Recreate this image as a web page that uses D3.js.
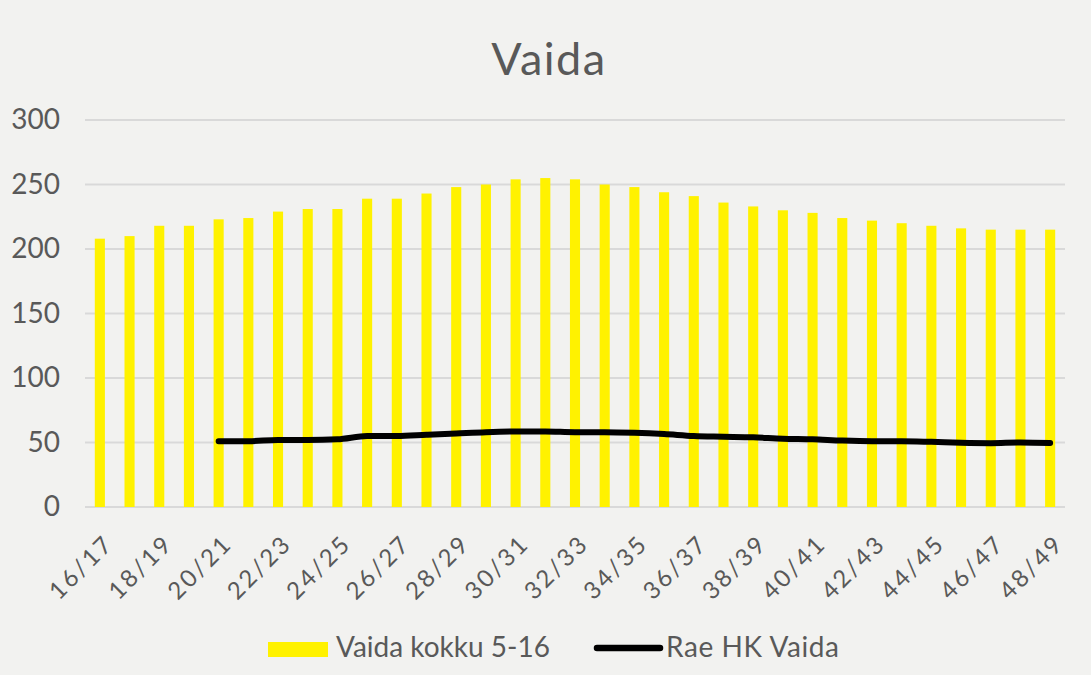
<!DOCTYPE html>
<html>
<head>
<meta charset="utf-8">
<script src="https://cdn.jsdelivr.net/npm/d3@7"></script>
<style>
  body { margin: 0; background: #f2f2f0; }
  svg { display: block; }
</style>
</head>
<body>
<div id="chart"></div>
<script>
// categories (school years)
const years = ["16/17","17/18","18/19","19/20","20/21","21/22","22/23","23/24","24/25","25/26",
  "26/27","27/28","28/29","29/30","30/31","31/32","32/33","33/34","34/35","35/36","36/37",
  "37/38","38/39","39/40","40/41","41/42","42/43","43/44","44/45","45/46","46/47","47/48","48/49"]

// Vaida kokku 5-16 (bars)
const total = [208,210,218,218,223,224,229,231,231,239,239,243,248,250,254,255,254,250,248,
  244,241,236,233,230,228,224,222,220,218,216,215,215,215]

// Rae HK Vaida (line), starts from 20/21
const rae = [null,null,null,null,51,51,52,52,52.5,55,55,56,57,58,58.5,58.5,58,58,57.5,56.5,
  55,54.5,54,53,52.5,51.5,51,51,50.5,49.8,49.5,50,49.6]

const yTicks = [0,50,100,150,200,250,300]

// graph sizes
let width = 1091
let height = 675
let margin = {left: 85, right: 26, top: 120, bottom: 168}
let font = "Lato, 'Open Sans', sans-serif"

let svg = d3.select("#chart")
  .append("svg")
  .attr("width", width)
  .attr("height", height)
  .style("background", "#f2f2f0")
  .style("font-family", font)

let x = d3.scaleBand()
  .domain(years)
  .range([margin.left, width - margin.right])
  .paddingInner(0.66)
  .paddingOuter(0.33)

let y = d3.scaleLinear()
  .domain([0, 300])
  .range([height - margin.bottom, margin.top])

// title
svg.append("text")
  .attr("x", 549)
  .attr("y", 75)
  .attr("text-anchor", "middle")
  .style("font-size", "45px")
  .style("letter-spacing", "1.5px")
  .style("fill", "#595959")
  .text("Vaida")

// gridlines
svg.append("g")
  .selectAll("line")
  .data(yTicks)
  .enter().append("line")
    .attr("x1", margin.left)
    .attr("x2", width - margin.right)
    .attr("y1", d => y(d))
    .attr("y2", d => y(d))
    .attr("stroke", "#d9d9d9")
    .attr("stroke-width", 2)

// y axis labels
let yAxis = svg.append("g")
  .attr("transform", "translate(" + margin.left + ",0)")
  .call(d3.axisLeft(y).tickValues(yTicks).tickSize(0).tickPadding(25))
yAxis.select(".domain").remove()
yAxis.selectAll("text")
  .style("font-size", "28px")
  .style("fill", "#595959")
  .style("font-family", font)

// bars
svg.append("g")
  .selectAll("rect")
  .data(years)
  .enter().append("rect")
    .attr("x", d => x(d))
    .attr("width", x.bandwidth())
    .attr("y", (d, i) => y(total[i]))
    .attr("height", (d, i) => y(0) - y(total[i]))
    .attr("fill", "#fff200")

// line
let line = d3.line()
  .defined(d => d.v != null)
  .x(d => x(d.k) + x.bandwidth() / 2)
  .y(d => y(d.v))
  .curve(d3.curveMonotoneX)

svg.append("path")
  .datum(years.map((k, i) => ({k: k, v: rae[i]})))
  .attr("d", line)
  .attr("fill", "none")
  .attr("stroke", "#000")
  .attr("stroke-width", 6)
  .attr("stroke-linecap", "round")

// x axis labels, every other year
let xAxis = svg.append("g")
  .attr("transform", "translate(0," + y(0) + ")")
  .call(d3.axisBottom(x).tickValues(years.filter((d, i) => i % 2 == 0)).tickSize(0))
xAxis.select(".domain").remove()
xAxis.selectAll("text")
  .attr("text-anchor", "end")
  .attr("transform", "translate(7,30) rotate(-45)")
  .attr("dy", "0.35em")
  .style("font-size", "24px")
  .style("letter-spacing", "2.5px")
  .style("fill", "#595959")
  .style("font-family", font)

// legend
let legend = svg.append("g")
legend.append("rect")
  .attr("x", 268).attr("y", 642)
  .attr("width", 60).attr("height", 15)
  .attr("fill", "#fff200")
legend.append("text")
  .attr("x", 336).attr("y", 657)
  .style("font-size", "28px")
  .style("fill", "#595959")
  .text("Vaida kokku 5-16")
legend.append("line")
  .attr("x1", 597).attr("x2", 660)
  .attr("y1", 648).attr("y2", 648)
  .attr("stroke", "#000")
  .attr("stroke-width", 6.5)
  .attr("stroke-linecap", "round")
legend.append("text")
  .attr("x", 666).attr("y", 657)
  .style("font-size", "28px")
  .style("letter-spacing", "0.6px")
  .style("fill", "#595959")
  .text("Rae HK Vaida")
</script>
</body>
</html>
